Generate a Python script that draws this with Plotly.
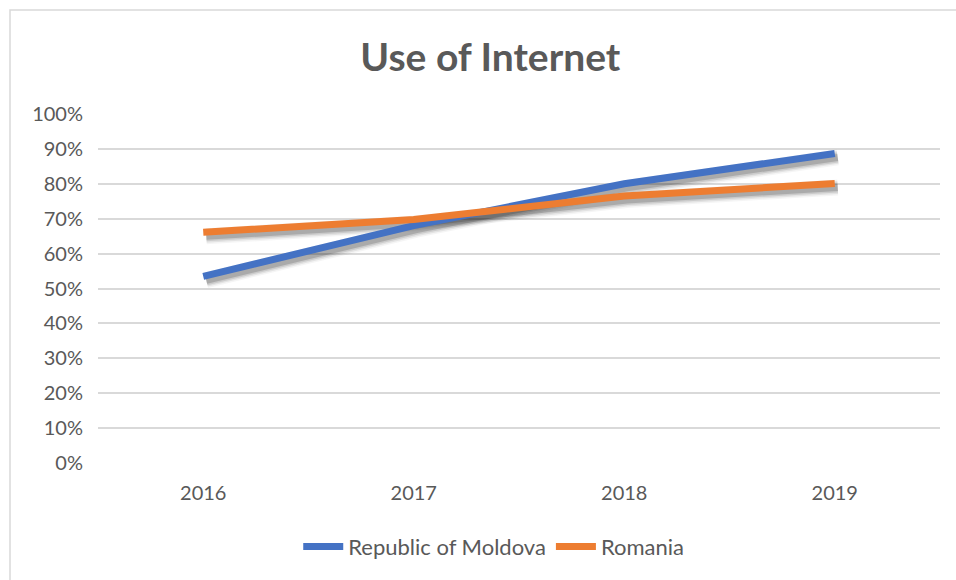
import plotly.graph_objects as go

# Share of population using the Internet
years = ["2016", "2017", "2018", "2019"]
moldova = [0.535, 0.68, 0.80, 0.887]
romania = [0.661, 0.698, 0.765, 0.801]

series = [
    ("Republic of Moldova", moldova, "#4472C4"),
    ("Romania", romania, "#ED7D31"),
]

W, H = 956, 580
ML, MR, MT, MB = 98, 16, 114, 117
plot_w = W - ML - MR
plot_h = H - MT - MB

# drop shadow offset in pixels, converted to data units
dx_px, dy_px = 3, 4
dx = dx_px / (plot_w / len(years))
dy = dy_px / plot_h

GREY_TXT = "#595959"
GRID = "#D9D9D9"
FONT = "Lato"

fig = go.Figure()

# invisible trace that anchors the category axis
fig.add_trace(go.Scatter(x=years, y=moldova, mode="lines", line=dict(width=0),
                         hoverinfo="skip", showlegend=False, xaxis="x", yaxis="y"))

# soft grey shadows under each line
for name, vals, col in series:
    for w, a in [(16, 0.04), (13, 0.07), (10, 0.10), (7, 0.16)]:
        fig.add_trace(go.Scatter(x=years, y=vals, mode="lines",
                                 line=dict(color=f"rgba(0,0,0,{a})", width=w),
                                 hoverinfo="skip", showlegend=False,
                                 xaxis="x2", yaxis="y2"))

# main lines
for name, vals, col in series:
    fig.add_trace(go.Scatter(x=years, y=vals, mode="lines", name=name,
                             line=dict(color=col, width=7),
                             xaxis="x3", yaxis="y3"))

fig.update_layout(
    width=W, height=H,
    margin=dict(l=ML, r=MR, t=MT, b=MB),
    paper_bgcolor="white", plot_bgcolor="white",
    font=dict(family=FONT, color=GREY_TXT, size=20),
    title=dict(text="<b>Use of Internet</b>", xref="paper", x=0.466, xanchor="center",
               y=1 - 57 / H, yanchor="middle",
               font=dict(family=FONT, size=39, color=GREY_TXT)),
    xaxis=dict(type="category", categoryorder="array", categoryarray=years,
               range=[-0.5, len(years) - 0.5], showgrid=False, zeroline=False,
               showline=False, ticks="", tickfont=dict(size=20, color=GREY_TXT),
               ticklabelstandoff=16),
    yaxis=dict(range=[0, 1], tickvals=[i / 10 for i in range(11)],
               tickformat=".0%", showgrid=True, gridcolor=GRID, gridwidth=1.5,
               zeroline=False, showline=False, ticks="",
               tickfont=dict(size=20, color=GREY_TXT), ticklabelstandoff=14),
    xaxis2=dict(type="category", categoryorder="array", categoryarray=years,
                overlaying="x", range=[-0.5 - dx, len(years) - 0.5 - dx], visible=False),
    yaxis2=dict(overlaying="y", range=[dy, 1 + dy], visible=False),
    xaxis3=dict(type="category", categoryorder="array", categoryarray=years,
                overlaying="x", range=[-0.5, len(years) - 0.5], visible=False),
    yaxis3=dict(overlaying="y", range=[0, 1], visible=False),
    legend=dict(orientation="h", x=0.47, xanchor="center", y=-0.24, yanchor="middle",
                font=dict(size=22, color=GREY_TXT), itemwidth=40,
                bgcolor="rgba(0,0,0,0)", tracegroupgap=0),
    showlegend=True,
    shapes=[dict(type="rect", xref="paper", yref="paper",
                 x0=(10 - ML) / plot_w, x1=1.3,
                 y0=-0.6, y1=(MT + plot_h - 10) / plot_h,
                 line=dict(color=GRID, width=1.5), fillcolor="rgba(0,0,0,0)",
                 layer="below")],
)

fig.write_html("out.html")
